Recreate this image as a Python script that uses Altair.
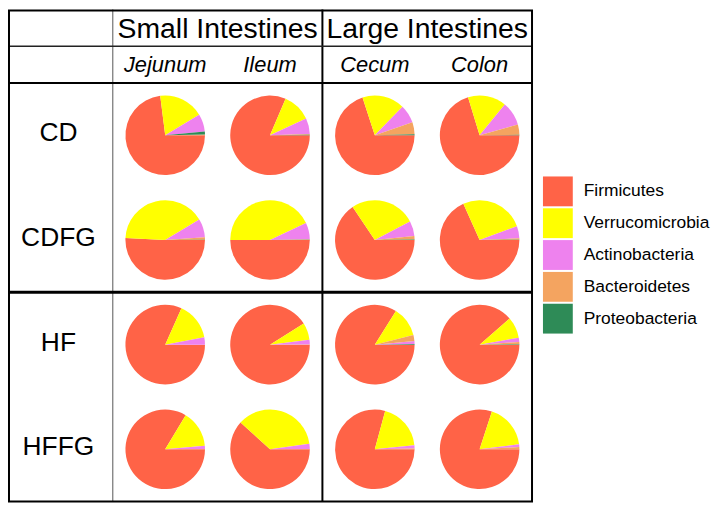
import math
import altair as alt
import pandas as pd

groups = ["CD", "CDFG", "HF", "HFFG"]
sites = ["Jejunum", "Ileum", "Cecum", "Colon"]
regions = ["Small Intestines", "Large Intestines"]
region_sites = [["Jejunum", "Ileum"], ["Cecum", "Colon"]]
phyla = ["Firmicutes", "Verrucomicrobia", "Actinobacteria", "Bacteroidetes", "Proteobacteria"]
colors = ["#FF6347", "#FFFF00", "#EE82EE", "#F4A460", "#2E8B57"]

# values in %, order: CD(J,I,Ce,Co), CDFG(...), HF(...), HFFG(...)
firmicutes = [73.0, 81.4, 70.0, 70.3, 50.8, 50.0, 65.6, 68.3, 81.7, 91.1, 83.9, 88.6, 83.6, 61.7, 79.2, 80.0]
verrucomicrobia = [18.3, 11.7, 17.2, 15.6, 40.6, 43.0, 26.7, 26.1, 15.3, 6.9, 12.2, 8.6, 15.0, 36.1, 19.2, 18.0]
actinobacteria = [7.2, 6.4, 7.5, 9.7, 7.5, 6.7, 6.1, 4.9, 3.0, 1.9, 1.2, 1.7, 1.3, 2.1, 1.3, 1.1]
bacteroidetes = [0.3, 0.3, 4.9, 4.2, 1.0, 0.2, 1.4, 0.6, 0.0, 0.1, 2.4, 0.9, 0.1, 0.1, 0.3, 0.9]
proteobacteria = [1.2, 0.2, 0.4, 0.2, 0.1, 0.1, 0.2, 0.1, 0.0, 0.0, 0.3, 0.2, 0.0, 0.0, 0.0, 0.0]

series = [firmicutes, verrucomicrobia, actinobacteria, bacteroidetes, proteobacteria]
rows = []
for gi, g in enumerate(groups):
    for si, s in enumerate(sites):
        k = gi * len(sites) + si
        for p, vals in zip(phyla, series):
            rows.append({"group": g, "site": s, "phylum": p, "value": vals[k],
                         "col": si + 1, "row": gi + 0.5})
df = pd.DataFrame(rows)

labels_df = pd.DataFrame({"group": groups, "col": [0] * len(groups),
                          "row": [i + 0.5 for i in range(len(groups))]})
sites_df = pd.DataFrame({"site": sites, "col": [i + 1 for i in range(len(sites))]})
regions_df = pd.DataFrame({"region": regions,
                           "col": [sum(sites.index(s) + 1 for s in rs) / len(rs) for rs in region_sites]})
one = pd.DataFrame({"k": [0]})

W, H = 527, 495
HDR1, HDR2 = 37, 74
FONT = "Liberation Sans"

xscale = alt.Scale(domain=[-0.5, 4.5], range=[0, W])
yscale = alt.Scale(domain=[0, 4], range=[HDR2, H])

pies = (
    alt.Chart(df)
    .transform_filter("datum.value > 0")
    .transform_joinaggregate(total="sum(value)", groupby=["group", "site"])
    .transform_window(cum="sum(value)", groupby=["group", "site"],
                      sort=[alt.SortField("value", order="descending")],
                      frame=[None, 0], ignorePeers=True)
    .transform_calculate(start="(datum.cum - datum.value) / datum.total",
                         end="datum.cum / datum.total")
    .mark_arc(radius=40)
    .encode(
        x=alt.X("col:Q", scale=xscale, axis=None),
        y=alt.Y("row:Q", scale=yscale, axis=None),
        theta=alt.Theta("start:Q", stack=None,
                        scale=alt.Scale(domain=[0, 1], range=[math.pi / 2, math.pi / 2 + 2 * math.pi])),
        theta2="end:Q",
        color=alt.Color("phylum:N", scale=alt.Scale(domain=phyla, range=colors),
                        legend=alt.Legend(title=None, orient="none", legendX=538, legendY=168,
                                          symbolType="square", symbolSize=900, symbolStrokeWidth=0,
                                          symbolOpacity=1, labelFontSize=17.5, labelFont=FONT,
                                          labelColor="black", labelOffset=11, rowPadding=2)),
    )
)

row_labels = alt.Chart(labels_df).mark_text(fontSize=26.5, font=FONT, color="black", dx=-2, dy=-2).encode(
    x=alt.X("col:Q", scale=xscale), y=alt.Y("row:Q", scale=yscale), text="group:N")

site_labels = alt.Chart(sites_df).mark_text(fontSize=22, font=FONT, fontStyle="italic",
                                             color="black").encode(
    x=alt.X("col:Q", scale=xscale), y=alt.value((HDR1 + HDR2) / 2), text="site:N")

region_labels = alt.Chart(regions_df).mark_text(fontSize=28.5, font=FONT, color="black").encode(
    x=alt.X("col:Q", scale=xscale), y=alt.value(HDR1 / 2 + 1), text="region:N")

border = alt.Chart(one).mark_rect(filled=False, stroke="black", strokeWidth=2).encode(
    x=alt.value(1), x2=alt.value(W), y=alt.value(1), y2=alt.value(H))

vline_thin = alt.Chart(pd.DataFrame({"b": [0.5]})).mark_rule(color="#555555", strokeWidth=1).encode(
    x=alt.X("b:Q", scale=xscale), y=alt.value(0), y2=alt.value(H))
vline_mid = alt.Chart(pd.DataFrame({"b": [2.5]})).mark_rule(color="black", strokeWidth=2).encode(
    x=alt.X("b:Q", scale=xscale), y=alt.value(0), y2=alt.value(H))

hline1 = alt.Chart(one).mark_rule(color="#222222", strokeWidth=1.5).encode(
    x=alt.value(0), x2=alt.value(W), y=alt.value(HDR1))
hline2 = alt.Chart(one).mark_rule(color="black", strokeWidth=2).encode(
    x=alt.value(0), x2=alt.value(W), y=alt.value(HDR2))
hline3 = alt.Chart(pd.DataFrame({"b": [2]})).mark_rule(color="black", strokeWidth=3).encode(
    x=alt.value(0), x2=alt.value(W), y=alt.Y("b:Q", scale=yscale))

chart = (
    alt.layer(pies, row_labels, site_labels, region_labels,
              vline_thin, vline_mid, hline1, hline2, hline3, border)
    .properties(width=W, height=H, autosize=alt.AutoSizeParams(type="none"),
                padding={"left": 0, "top": 0, "right": 180, "bottom": 5})
    .configure_view(stroke=None)
)

chart.save("out.html", embed_options={"renderer": "svg", "actions": False})
